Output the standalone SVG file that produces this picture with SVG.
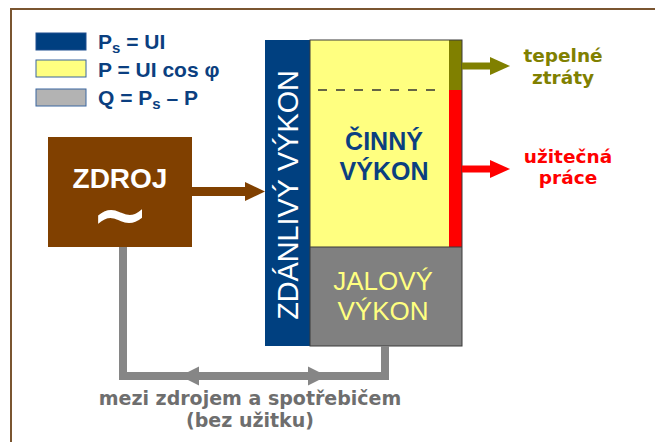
<svg xmlns="http://www.w3.org/2000/svg" width="655" height="442" viewBox="0 0 655 442">
<style>
text{font-family:"Liberation Sans",Arial,sans-serif}
.dv{font-family:"DejaVu Sans",Verdana,sans-serif}
.leg{font-size:21px;font-weight:bold;fill:#0b3f80}
.side{font-size:18.5px;font-weight:bold;text-anchor:middle}
.frame{stroke:#7a5530;stroke-width:2;fill:none}
.conn{fill:none;stroke:#868686;stroke-width:8}
</style>
<rect width="655" height="442" fill="#fff"/>
<g id="frame"><path class="frame" d="M11,442 V9 H655"/></g>
<g id="legend">
<rect x="36" y="33" width="50" height="17" fill="#003f80" stroke="#1f4f8f"/>
<rect x="36" y="60" width="50" height="17" fill="#ffff80" stroke="#3a66a0"/>
<rect x="36" y="89" width="50" height="17" fill="#b3b3b3" stroke="#3a66a0"/>
<text class="leg" x="98" y="49">P<tspan font-size="15" dy="4">s</tspan><tspan dy="-4"> = UI</tspan></text>
<text class="leg" x="98" y="77">P = UI cos φ</text>
<text class="leg" x="98" y="105">Q = P<tspan font-size="15" dy="4">s</tspan><tspan dy="-4"> – P</tspan></text>
</g>
<g id="zdroj">
<rect x="48" y="137" width="144" height="110" fill="#804000"/>
<text x="120" y="188" font-size="28" font-weight="bold" fill="#fff" text-anchor="middle">ZDROJ</text>
<text class="dv" x="120" y="239" font-size="70" font-weight="bold" fill="#fff" text-anchor="middle">~</text>
</g>
<g id="zdanlivy">
<rect x="265" y="40" width="45" height="306" fill="#004080"/>
<text transform="translate(297.5,195) rotate(-90)" x="0" y="0" font-size="28.8" fill="#fff" text-anchor="middle">ZDÁNLIVÝ VÝKON</text>
</g>
<g id="cinny">
<rect x="310" y="40" width="139" height="207" fill="#ffff80"/>
<rect x="449" y="40" width="13" height="50" fill="#808000"/>
<rect x="449" y="90" width="13" height="157" fill="#ff0000"/>
<line x1="318" y1="90" x2="440" y2="90" stroke="#333" stroke-width="1.5" stroke-dasharray="9,9"/>
<text x="384" y="150" font-size="25" font-weight="bold" fill="#0b3f80" text-anchor="middle">ČINNÝ</text>
<text x="384" y="180" font-size="25" font-weight="bold" fill="#0b3f80" text-anchor="middle">VÝKON</text>
</g>
<g id="jalovy">
<rect x="310" y="247" width="152" height="99" fill="#808080"/>
<text x="383" y="290" font-size="26" fill="#ffff80" text-anchor="middle">JALOVÝ</text>
<text x="383" y="320" font-size="26" fill="#ffff80" text-anchor="middle">VÝKON</text>
</g>
<rect x="310" y="40" width="152" height="306" fill="none" stroke="#3a3a3a" stroke-width="1"/>
<line x1="310" y1="247" x2="462" y2="247" stroke="#3a3a3a" stroke-width="1.2"/>
<g id="connectors">
<path d="M192,191.5 H248" stroke="#804000" stroke-width="9" fill="none"/>
<polygon points="245,182 265,191.5 245,201" fill="#804000"/>
<path d="M462,66 H492" stroke="#808000" stroke-width="7" fill="none"/>
<polygon points="490,57 510,66 490,75" fill="#808000"/>
<path d="M462,169 H492" stroke="#ff0000" stroke-width="7" fill="none"/>
<polygon points="490,160 510,169 490,178" fill="#ff0000"/>
<path class="conn" d="M123,247 V376 H385 V346"/>
<polygon points="180,376 199,366.5 199,385.5" fill="#868686"/>
<polygon points="327,376 308,366.5 308,385.5" fill="#868686"/>
</g>
<g id="labels">
<text class="side dv" x="563" y="62" fill="#808000">tepelné</text>
<text class="side dv" x="563" y="84" fill="#808000">ztráty</text>
<text class="side dv" x="568" y="163" fill="#ff0000">užitečná</text>
<text class="side dv" x="568" y="184" fill="#ff0000">práce</text>
<text class="dv" x="250" y="405" font-size="19" font-weight="bold" fill="#6e6e6e" text-anchor="middle">mezi zdrojem a spotřebičem</text>
<text class="dv" x="250" y="427" font-size="19" font-weight="bold" fill="#6e6e6e" text-anchor="middle">(bez užitku)</text>
</g>
</svg>
